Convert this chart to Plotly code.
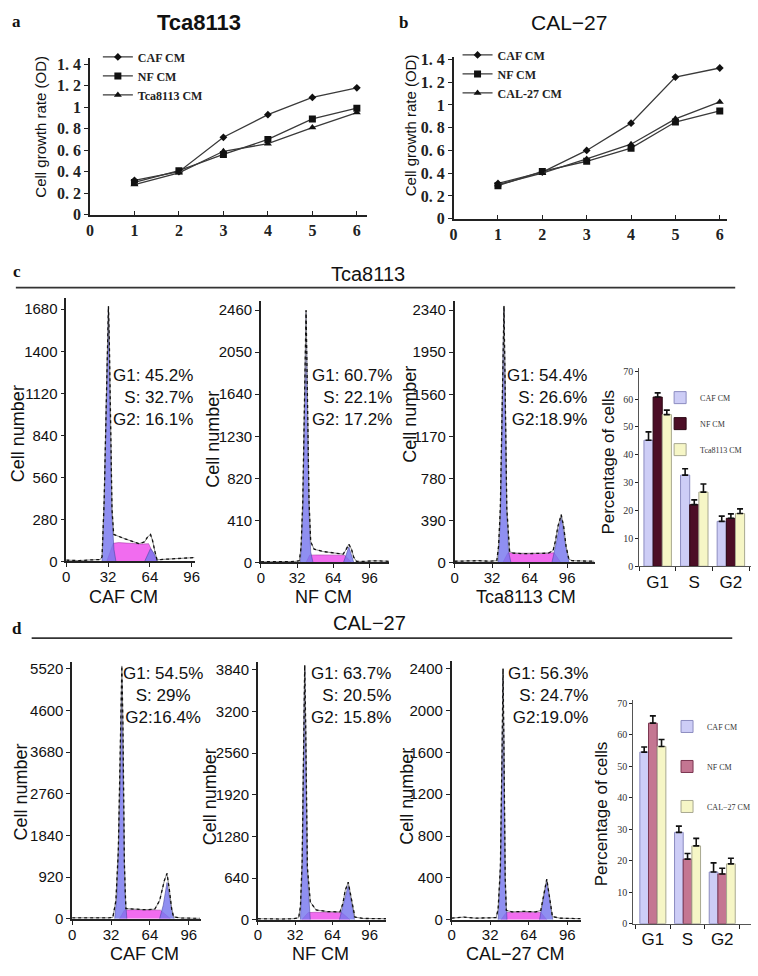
import plotly.graph_objects as go

W, H = 758, 976
SANS = "Liberation Sans"
SERIF = "Liberation Serif"

# ---------------- data: growth curves (panels a, b) ----------------
days = [1, 2, 3, 4, 5, 6]
day_ticks = [0, 1, 2, 3, 4, 5, 6]
od_ticks = [0, 0.2, 0.4, 0.6, 0.8, 1.0, 1.2, 1.4]
od_ticktext = ["0", "0. 2", "0. 4", "0. 6", "0. 8", "1", "1. 2", "1. 4"]
a_caf = [0.32, 0.40, 0.72, 0.93, 1.09, 1.18]
a_nf = [0.30, 0.41, 0.56, 0.70, 0.89, 0.99]
a_tca = [0.28, 0.39, 0.59, 0.66, 0.81, 0.95]
b_caf = [0.31, 0.41, 0.60, 0.84, 1.245, 1.325]
b_nf = [0.29, 0.415, 0.505, 0.62, 0.85, 0.947]
b_cal = [0.30, 0.40, 0.525, 0.655, 0.878, 1.027]

# ---------------- data: bar charts (panels c, d) ----------------
phases = ["G1", "S", "G2"]
c_caf = [45.2, 32.7, 16.1]
c_caf_err = [3.0, 2.3, 1.9]
c_nf = [60.7, 22.1, 17.2]
c_nf_err = [1.5, 1.7, 1.6]
c_tca = [54.4, 26.6, 18.9]
c_tca_err = [1.6, 2.9, 1.7]
d_caf = [54.5, 29.0, 16.4]
d_caf_err = [1.6, 2.0, 2.9]
d_nf = [63.7, 20.5, 15.8]
d_nf_err = [2.3, 1.8, 1.8]
d_cal = [56.3, 24.7, 19.0]
d_cal_err = [2.2, 2.4, 1.8]
pct_ticks = [0, 10, 20, 30, 40, 50, 60, 70]

# ---------------- data: DNA histograms ----------------
dna_ticks = [0, 32, 64, 96]
c1_yticks = [0, 280, 560, 840, 1120, 1400, 1680]
c2_yticks = [0, 410, 820, 1230, 1640, 2050, 2460]
c3_yticks = [0, 390, 780, 1170, 1560, 1950, 2340]
d1_yticks = [0, 920, 1840, 2760, 3680, 4600, 5520]
d2_yticks = [0, 640, 1280, 1920, 2560, 3200, 3840]
d3_yticks = [0, 400, 800, 1200, 1600, 2000, 2400]

c1_x = [0, 10, 20, 26, 27.4, 29, 31, 32.3, 33, 34, 35, 36.3, 40, 45, 50, 55.7, 60, 62, 64.5, 66, 68, 69.5, 72, 80, 90, 98]
c1_y = [8, 5, 10, 12, 30, 400, 1200, 1700, 1450, 800, 350, 179, 165, 150, 135, 118, 130, 160, 179, 140, 60, 10, 12, 15, 18, 25]
c1_g1_x = [27.4, 29, 31, 32.3, 33.5, 35, 36.5, 38]
c1_g1_y = [0, 400, 1200, 1690, 1000, 300, 80, 0]
c1_s_x = [31, 36, 40, 50, 58, 63, 69.5]
c1_s_y = [0, 120, 125, 120, 115, 118, 0]
c1_g2_x = [60, 64.5, 67, 70]
c1_g2_y = [0, 85, 55, 0]

c2_x = [0, 10, 20, 30, 34, 35.5, 37, 39, 39.9, 41, 42.5, 44, 47, 55, 65, 72.7, 75, 77.7, 80, 82, 84.4, 90, 100, 113]
c2_y = [5, 5, 5, 8, 15, 150, 600, 1900, 2460, 1700, 600, 200, 128, 105, 90, 80, 120, 176, 130, 50, 10, 8, 15, 10]
c2_g1_x = [34.9, 37, 39, 39.9, 41, 42.5, 44, 46]
c2_g1_y = [0, 500, 1800, 2440, 1600, 500, 100, 0]
c2_s_x = [40, 43, 50, 60, 70, 74, 80]
c2_s_y = [0, 70, 72, 68, 70, 70, 0]
c2_g2_x = [73, 77.7, 82]
c2_g2_y = [0, 150, 0]

c3_x = [0, 10, 20, 30, 36, 37.5, 39, 41, 42.1, 43, 44.5, 46.9, 50, 60, 70, 80, 84, 86, 88, 90.9, 93, 95, 97.4, 100, 110, 119]
c3_y = [10, 12, 15, 10, 15, 150, 500, 1700, 2380, 1700, 500, 100, 85, 80, 80, 85, 110, 200, 330, 442, 330, 150, 30, 15, 12, 10]
c3_g1_x = [37, 39, 41, 42.1, 43, 44.5, 46, 48]
c3_g1_y = [0, 400, 1700, 2360, 1700, 500, 100, 0]
c3_s_x = [41.2, 45.5, 55, 65, 75, 84.8, 90.4]
c3_s_y = [0, 88, 85, 82, 85, 88, 0]
c3_g2_x = [83, 87, 90.9, 94, 97.5]
c3_g2_y = [0, 200, 430, 200, 0]

d1_x = [0, 10, 20, 30, 33.5, 36, 38, 40, 40.9, 41.8, 43, 44.2, 50, 60, 68, 72, 76, 78.1, 80, 82, 83.5, 90, 100, 105]
d1_y = [20, 15, 15, 20, 30, 400, 1500, 4300, 5580, 4300, 1200, 224, 210, 200, 210, 400, 850, 1000, 650, 200, 40, 15, 10, 10]
d1_g1_x = [35, 37, 39.5, 40.9, 42, 43.5, 45]
d1_g1_y = [0, 600, 3000, 5200, 3000, 600, 0]
d1_s_x = [39, 43, 50, 60, 68, 72.7, 81]
d1_s_y = [0, 190, 200, 195, 200, 190, 0]
d1_g2_x = [72, 75, 78.1, 81, 84]
d1_g2_y = [0, 300, 800, 350, 0]

d2_x = [0, 10, 20, 30, 35, 36.5, 38, 39.5, 40.2, 41, 42.5, 45, 50, 60, 70.5, 73, 75, 77.6, 80, 83.3, 90, 100, 110]
d2_y = [15, 10, 10, 15, 30, 200, 900, 3000, 3915, 3000, 800, 273, 150, 125, 121, 250, 450, 577, 350, 40, 20, 15, 15]
d2_g1_x = [36.5, 38, 39.5, 40.2, 41, 42.5, 45]
d2_g1_y = [0, 800, 3000, 3850, 3000, 700, 0]
d2_s_x = [37.7, 43.2, 50, 60, 72, 79.1]
d2_s_y = [0, 110, 115, 110, 110, 0]
d2_g2_x = [70, 74, 77.6, 80, 83]
d2_g2_y = [0, 300, 530, 300, 0]

d3_x = [0, 10, 20, 30, 37, 38.6, 40.5, 42, 42.7, 43.5, 44.5, 45.4, 50, 60, 70, 74.1, 76, 79, 81.5, 83.7, 90, 100, 107]
d3_y = [15, 25, 15, 15, 20, 100, 500, 1700, 2400, 1600, 400, 90, 75, 80, 75, 90, 200, 389, 200, 30, 15, 10, 10]
d3_g1_x = [38.6, 40.5, 42, 42.7, 43.5, 44.5, 46]
d3_g1_y = [0, 500, 1700, 2300, 1600, 400, 0]
d3_s_x = [41, 45.4, 52, 60, 68, 74.1, 79]
d3_s_y = [0, 70, 72, 68, 72, 70, 0]
d3_g2_x = [73, 76, 79, 81.5, 84]
d3_g2_y = [0, 200, 370, 200, 0]

c_phase_text = ["G1: 45.2%<br>S: 32.7%<br>G2: 16.1%",
                "G1: 60.7%<br>S: 22.1%<br>G2: 17.2%",
                "G1: 54.4%<br>S: 26.6%<br>G2:18.9%"]
d_phase_text = ["G1: 54.5%<br>S: 29%<br>G2:16.4%",
                "G1: 63.7%<br>S: 20.5%<br>G2: 15.8%",
                "G1: 56.3%<br>S: 24.7%<br>G2:19.0%"]
c_names = ["CAF CM", "NF CM", "Tca8113 CM"]
d_names = ["CAF CM", "NF CM", "CAL\u221227 CM"]


def X(px):
    return px / W


def Y(py):
    return 1 - py / H


fig = go.Figure()
layout = dict(width=W, height=H, margin=dict(l=0, r=0, t=0, b=0),
              paper_bgcolor="white", plot_bgcolor="white",
              barmode="group", bargap=0.25, bargroupgap=0, showlegend=True)
annotations = []
shapes = []


def axkey(kind, i):
    return f"{kind}axis" if i == 1 else f"{kind}axis{i}"


def ref(kind, i):
    return kind if i == 1 else f"{kind}{i}"


def add_axes(i, xpx, ypx, xcfg, ycfg):
    base = dict(showline=True, linecolor="#222", linewidth=1.5, showgrid=False,
                zeroline=False, ticks="outside", ticklen=4, tickcolor="#222",
                tickwidth=1.2)
    xa = dict(base, domain=[X(xpx[0]), X(xpx[1])], anchor=ref("y", i))
    xa.update(xcfg)
    ya = dict(base, domain=[Y(ypx[1]), Y(ypx[0])], anchor=ref("x", i))
    ya.update(ycfg)
    layout[axkey("x", i)] = xa
    layout[axkey("y", i)] = ya


def ann(text, px, py, size, family=SANS, xanchor="center", yanchor="middle",
        angle=0, align="center", color="#111"):
    annotations.append(dict(text=text, x=X(px), y=Y(py), xref="paper", yref="paper",
                            showarrow=False, xanchor=xanchor, yanchor=yanchor,
                            textangle=angle, align=align,
                            font=dict(family=family, size=size, color=color)))


# ---------------- growth curves ----------------
line_specs = [
    (1, [87, 367], [53, 212], [0, 6.22], [0, 1.455], a_caf, a_nf, a_tca,
     ["CAF CM", "NF CM", "Tca8113 CM"], "legend"),
    (2, [455, 732], [52, 216], [0, 6.17], [0, 1.42], b_caf, b_nf, b_cal,
     ["CAF CM", "NF CM", "CAL-27 CM"], "legend2"),
]
sym = ["diamond", "square", "triangle-up"]
msz = [6, 7, 7]
for (i, xpx, ypx, xr, yr, s1, s2, s3, names, lg) in line_specs:
    for k, (ser, nm) in enumerate(zip([s1, s2, s3], names)):
        fig.add_trace(go.Scatter(x=days, y=ser, name=nm, mode="lines+markers",
                                 xaxis=ref("x", i), yaxis=ref("y", i), legend=lg,
                                 line=dict(color="#3a3a3a", width=1.3),
                                 marker=dict(symbol=sym[k], size=msz[k], color="#111")))
    tfont = dict(family=SERIF, size=16, color="#222", weight="bold")
    add_axes(i, xpx, ypx,
             dict(range=xr, tickvals=day_ticks, ticks="inside", ticklen=4,
                  tickfont=tfont),
             dict(range=yr, tickvals=od_ticks, ticktext=od_ticktext, tickfont=tfont))

legend_line = dict(bgcolor="rgba(0,0,0,0)",
                   font=dict(family=SERIF, size=12, color="#222", weight="bold"),
                   xanchor="left", yanchor="top", tracegroupgap=0, itemwidth=30)
layout["legend"] = dict(legend_line, x=X(95), y=Y(37))
layout["legend2"] = dict(legend_line, x=X(459), y=Y(35))

# ---------------- histograms ----------------
BLUE = "rgba(118,118,238,0.82)"
MAGENTA = "rgba(240,100,238,0.95)"
hist_specs = [
    (3, [63, 193], [297, 564], [0, 98.3], [0, 1752], c1_yticks, c1_x, c1_y,
     c1_g1_x, c1_g1_y, c1_s_x, c1_s_y, c1_g2_x, c1_g2_y),
    (4, [260, 390], [300, 565], [0, 113.5], [0, 2546], c2_yticks, c2_x, c2_y,
     c2_g1_x, c2_g1_y, c2_s_x, c2_s_y, c2_g2_x, c2_g2_y),
    (5, [456, 598], [300, 565], [0, 119.6], [0, 2422], c3_yticks, c3_x, c3_y,
     c3_g1_x, c3_g1_y, c3_s_x, c3_s_y, c3_g2_x, c3_g2_y),
    (7, [69, 199], [666, 927], [0, 105.8], [0, 5672], d1_yticks, d1_x, d1_y,
     d1_g1_x, d1_g1_y, d1_s_x, d1_s_y, d1_g2_x, d1_g2_y),
    (8, [257, 387], [666, 928], [0, 110.4], [0, 3966], d2_yticks, d2_x, d2_y,
     d2_g1_x, d2_g1_y, d2_s_x, d2_s_y, d2_g2_x, d2_g2_y),
    (9, [453, 584], [665, 928], [0, 107.5], [0, 2475], d3_yticks, d3_x, d3_y,
     d3_g1_x, d3_g1_y, d3_s_x, d3_s_y, d3_g2_x, d3_g2_y),
]
for (i, xpx, ypx, xr, yr, ytv, ox, oy, g1x, g1y, sx, sy, g2x, g2y) in hist_specs:
    xa, ya = ref("x", i), ref("y", i)
    fig.add_trace(go.Scatter(x=sx, y=sy, fill="toself", mode="lines", fillcolor=MAGENTA,
                             line=dict(color="rgba(150,40,150,0.6)", width=0.8),
                             xaxis=xa, yaxis=ya, showlegend=False, hoverinfo="skip"))
    for gx, gy in [(g1x, g1y), (g2x, g2y)]:
        fig.add_trace(go.Scatter(x=gx, y=gy, fill="toself", mode="lines", fillcolor=BLUE,
                                 line=dict(color="rgba(70,70,160,0.7)", width=0.8),
                                 xaxis=xa, yaxis=ya, showlegend=False, hoverinfo="skip"))
    fig.add_trace(go.Scatter(x=ox, y=oy, mode="lines", line=dict(color="#8a8a8a", width=1),
                             xaxis=xa, yaxis=ya, showlegend=False, hoverinfo="skip"))
    fig.add_trace(go.Scatter(x=ox, y=oy, mode="lines",
                             line=dict(color="#111", width=1.3, dash="dot"),
                             xaxis=xa, yaxis=ya, showlegend=False, hoverinfo="skip"))
    tf = dict(family=SANS, size=15, color="#111")
    add_axes(i, xpx, ypx,
             dict(range=xr, tickvals=dna_ticks, tickfont=tf, ticklabelstandoff=-3),
             dict(range=yr, tickvals=ytv, tickfont=tf))

# ---------------- bar charts ----------------
bar_specs = [
    (6, [643, 756], [368, 569], [-0.5, 2.55], [0, 71],
     [(c_caf, c_caf_err, "#cdcdf6", "#8c8cc0"),
      (c_nf, c_nf_err, "#4c0e26", "#2a0612"),
      (c_tca, c_tca_err, "#f6f6c6", "#a8a890")], c_names, "legend3"),
    (10, [637, 756], [705, 932], [-0.56, 2.83], [0, 71],
     [(d_caf, d_caf_err, "#cdcdf6", "#8c8cc0"),
      (d_nf, d_nf_err, "#c47692", "#7a3550"),
      (d_cal, d_cal_err, "#f6f6c6", "#a8a890")], d_names, "legend4"),
]
for (i, xpx, ypx, xr, yr, series, names, lg) in bar_specs:
    for k, ((vals, err, fc, lc), nm) in enumerate(zip(series, names)):
        fig.add_trace(go.Bar(x=phases, y=vals, name=nm, legend=lg, legendgroup=f"{lg}_{k}",
                             marker=dict(color=fc, line=dict(color=lc, width=1)),
                             error_y=dict(type="data", symmetric=False, array=err,
                                          arrayminus=[0, 0, 0], color="#111",
                                          thickness=1.6, width=3),
                             xaxis=ref("x", i), yaxis=ref("y", i)))
    add_axes(i, xpx, ypx,
             dict(type="category", range=xr, tickson="boundaries", ticklen=4,
                  tickfont=dict(family=SANS, size=17, color="#111"),
                  linecolor="#555", linewidth=1.2),
             dict(range=yr, tickvals=pct_ticks, ticklen=3,
                  tickfont=dict(family=SERIF, size=10, color="#333"),
                  linecolor="#555", linewidth=1.2))

legend_bar = dict(bgcolor="rgba(0,0,0,0)", font=dict(family=SERIF, size=8, color="#333"),
                  xanchor="left", yanchor="top", itemwidth=30, traceorder="grouped")
layout["legend3"] = dict(legend_bar, x=X(664), y=Y(383), tracegroupgap=7)
layout["legend4"] = dict(legend_bar, x=X(671), y=Y(717), tracegroupgap=21)

# ---------------- texts ----------------
for lab, px, py in [("a", 13, 16), ("b", 404, 17), ("c", 13, 270), ("d", 13, 632)]:
    ann(f"<b>{lab}</b>", px, py, 17, family=SERIF)
ann("<b>Tca8113</b>", 197, 17, 22)
ann("CAL\u221227", 572, 17, 21)
ann("Tca8113", 368, 272, 20)
ann("CAL\u221227", 370, 627, 20)
shapes.append(dict(type="line", xref="paper", yref="paper", x0=X(12), x1=X(740),
                   y0=Y(286), y1=Y(286), line=dict(color="#333", width=1.6)))
shapes.append(dict(type="line", xref="paper", yref="paper", x0=X(28), x1=X(737),
                   y0=Y(642), y1=Y(642), line=dict(color="#333", width=1.6)))

ann("Cell growth rate (OD)", 37, 123, 15, angle=-90)
ann("Cell growth rate (OD)", 411, 121, 15, angle=-90)
for px, py in [(14, 434), (212, 440), (410, 415), (17, 798), (208, 803), (407, 803)]:
    ann("Cell number", px, py, 18, angle=-90)
ann("Percentage of cells", 612, 463, 17, angle=-90)
ann("Percentage of cells", 605, 820, 17, angle=-90)

for nm, px in zip(c_names, [121, 323, 528]):
    ann(nm, px, 600, 18)
for nm, px in zip(d_names, [142, 320, 518]):
    ann(nm, px, 963, 18)

for txt, px in zip(c_phase_text, [193, 395, 592]):
    ann(txt, px, 398, 17, xanchor="right", align="right")
ann(d_phase_text[0], 161, 700, 17, xanchor="center", align="center")
for txt, px in zip(d_phase_text[1:], [394, 593]):
    ann(txt, px, 700, 17, xanchor="right", align="right")

layout["annotations"] = annotations
layout["shapes"] = shapes
fig.update_layout(**layout)
fig.write_html("out.html", config={"displayModeBar": False},
               post_script="document.body.style.margin='0';"
                           "document.body.style.overflow='hidden';")
